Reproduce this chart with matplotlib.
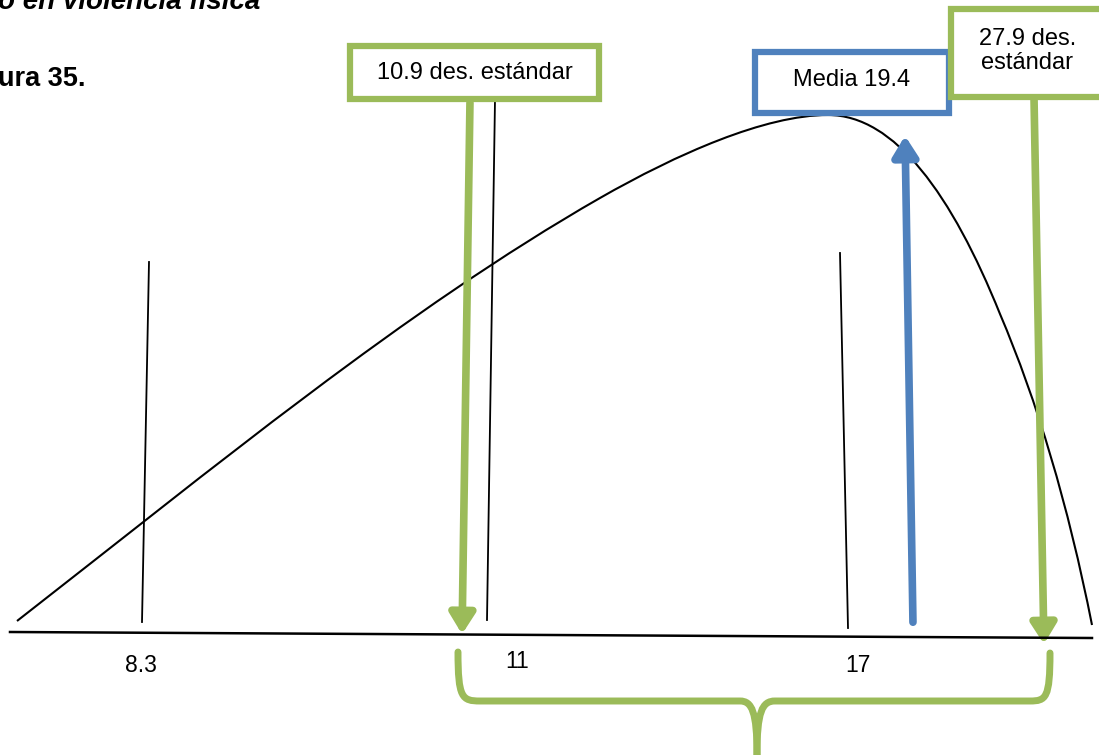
import matplotlib
matplotlib.use("Agg")
import matplotlib.pyplot as plt
from matplotlib.path import Path
from matplotlib.patches import PathPatch, FancyArrowPatch, Rectangle

plt.rcParams['font.family'] = ['Liberation Sans', 'DejaVu Sans']

# ---- data (text and values) ----
tick_labels = ["8.3", "11", "17"]
box_labels = ["10.9 des. estándar", "Media 19.4", "27.9 des.\nestándar"]
title_text = "o en violencia física"
figure_text = "ura 35."

# ---- layout (pixel space) ----
W, H = 1099, 755
GREEN = "#9BBB59"
BLUE = "#4F81BD"

fig = plt.figure(figsize=(W / 100, H / 100), dpi=100)
ax = fig.add_axes([0, 0, 1, 1])
ax.set_xlim(0, W)
ax.set_ylim(H, 0)
ax.axis("off")

# titles
ax.text(-2, 9, title_text, fontsize=20, fontweight="bold", style="italic",
        ha="left", va="baseline")
ax.text(-2, 79, figure_text, fontsize=19.5, fontweight="bold", ha="left", va="center")

# baseline
ax.plot([10, 1092], [632, 638], color="black", lw=1.8)

# curve (hand-drawn skewed distribution)
verts = [(17, 621),
         (212, 469), (406, 309), (600, 198),
         (677, 154), (765, 115), (828, 115),
         (895, 115), (952, 195), (1000, 314),
         (1037, 401), (1068, 504), (1092, 625)]
codes = [Path.MOVETO] + [Path.CURVE4] * 12
ax.add_patch(PathPatch(Path(verts, codes), fill=False, lw=1.5, color="black"))

# thin vertical marker lines
ax.plot([149, 142], [262, 622], color="black", lw=1.3)
ax.plot([495, 487], [100, 620], color="black", lw=1.3)
ax.plot([840, 848], [253, 628], color="black", lw=1.3)

# tick labels
for lab, (x, y) in zip(tick_labels, [(141, 666), (517, 661), (858, 665)]):
    ax.text(x, y, lab, fontsize=16.5, ha="center", va="center")

# blue arrow (mean)
ax.add_patch(FancyArrowPatch((913, 625), (905, 133), arrowstyle="-|>,head_length=8,head_width=5",
                             mutation_scale=1.5, color=BLUE, lw=5.5))
# green arrows
ax.add_patch(FancyArrowPatch((470, 100), (462, 637), arrowstyle="-|>,head_length=8,head_width=5",
                             mutation_scale=1.5, color=GREEN, lw=5.5))
ax.add_patch(FancyArrowPatch((1034, 97), (1044, 647), arrowstyle="-|>,head_length=8,head_width=5",
                             mutation_scale=1.5, color=GREEN, lw=5.5))

# boxes
def box(x0, y0, x1, y1, color, text, cy=None):
    ax.add_patch(Rectangle((x0, y0), x1 - x0, y1 - y0, facecolor="white",
                           edgecolor=color, lw=4.5, zorder=5))
    ax.text((x0 + x1) / 2, cy if cy else (y0 + y1) / 2, text, fontsize=17, ha="center",
            va="center", zorder=6, linespacing=1.1)

box(350, 46, 599, 99, GREEN, box_labels[0], 73)
box(755, 52, 949, 113, BLUE, box_labels[1], 80)
box(951, 9, 1104, 97, GREEN, box_labels[2], 51)

# brace
brace = Path([(458, 652), (458, 698), (462, 701), (480, 701),
              (740, 701), (752, 701), (757, 712), (757, 755)],
             [Path.MOVETO, Path.CURVE4, Path.CURVE4, Path.CURVE4,
              Path.LINETO, Path.CURVE4, Path.CURVE4, Path.CURVE4])
ax.add_patch(PathPatch(brace, fill=False, lw=5, color=GREEN, capstyle="round"))
brace2 = Path([(1050, 653), (1050, 698), (1046, 701), (1030, 701),
               (775, 701), (762, 701), (757, 712), (757, 755)],
              [Path.MOVETO, Path.CURVE4, Path.CURVE4, Path.CURVE4,
               Path.LINETO, Path.CURVE4, Path.CURVE4, Path.CURVE4])
ax.add_patch(PathPatch(brace2, fill=False, lw=5, color=GREEN, capstyle="round"))

fig.savefig("out.png", dpi=100)
